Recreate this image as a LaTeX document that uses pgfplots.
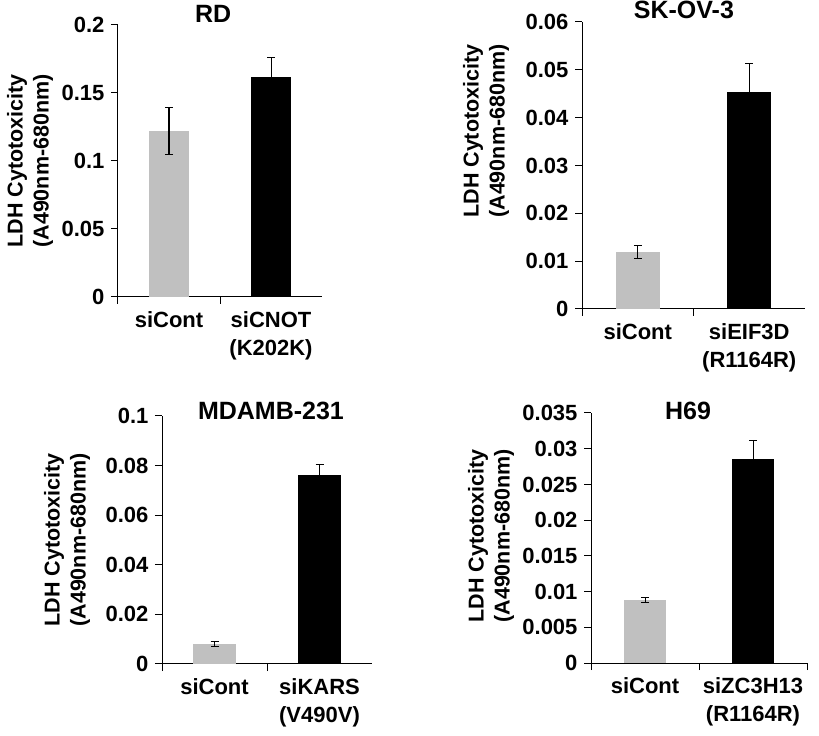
\documentclass[border=0pt]{standalone}
\usepackage{pgfplots}
\pgfplotsset{compat=1.18}
\usepackage{fontspec}
\setmainfont{Liberation Sans}
\definecolor{bargrey}{RGB}{192,192,192}
\newcommand{\tfont}{\bfseries\fontsize{22}{26}\selectfont}
\newcommand{\cfont}{\bfseries\fontsize{22}{28}\selectfont}
\newcommand{\lfont}{\bfseries\fontsize{21.5}{26}\selectfont}
\pgfplotsset{
  panel/.style={
    scale only axis, anchor=south west,
    axis lines=left, axis line style={-, line width=1pt, black},
    ymin=0, xmin=-0.5, xmax=1.5,
    xtick={0,1},
    minor xtick={-0.5,0.5},
    every major x tick/.append style={draw=none},
    tick align=outside,
    major tick length=7pt, minor tick length=7pt,
    every tick/.append style={line width=1pt, black},
    scaled y ticks=false,
    /pgf/number format/assume math mode=true,
    ticklabel style={font=\tfont},
    yticklabel style={xshift=-3pt},
    xticklabel style={align=center, font=\cfont, yshift=-4pt},
    ylabel style={align=center, font=\lfont, anchor=center},
    title style={font=\bfseries\fontsize{25}{30}\selectfont, anchor=center},
    ybar, bar shift=0pt,
    error bars/y dir=both, error bars/y explicit,
    error bars/error bar style={draw=black, line width=1pt},
    error bars/error mark options={rotate=90, mark size=4pt, draw=black, line width=1pt},
    clip=false,
  }
}
\begin{document}
\begin{tikzpicture}
\useasboundingbox (0,0) rectangle (819pt,736pt);
% RD
\begin{axis}[panel, at={(118pt,439pt)}, width=204pt, height=272pt,
  ymax=0.2, ytick={0,0.05,0.1,0.15,0.2}, yticklabels={0,0.05,0.1,0.15,0.2},
  xticklabels={siCont,{siCNOT\\(K202K)}},
  ylabel={LDH Cytotoxicity\\(A490nm-680nm)},
  ylabel style={at={(axis description cs:-0.431,0.5)}},
  title={RD}, title style={at={(axis description cs:0.466,1.018)}},
  bar width=40pt]
\addplot[fill=bargrey, draw=none] coordinates {(0,0.122) +- (0,0.017)};
\addplot[fill=black, draw=none] coordinates {(1,0.162) +- (0,0.014)};
\end{axis}
% SK-OV-3
\begin{axis}[panel, at={(582pt,427pt)}, width=223pt, height=287pt,
  ymax=0.06, ytick={0,0.01,0.02,0.03,0.04,0.05,0.06}, yticklabels={0,0.01,0.02,0.03,0.04,0.05,0.06},
  xticklabels={siCont,{siEIF3D\\(R1164R)}},
  ylabel={LDH Cytotoxicity\\(A490nm-680nm)},
  ylabel style={at={(axis description cs:-0.43,0.62)}},
  title={SK-OV-3}, title style={at={(axis description cs:0.457,1.021)}},
  bar width=44pt]
\addplot[fill=bargrey, draw=none] coordinates {(0,0.0119) +- (0,0.0014)};
\addplot[fill=black, draw=none] coordinates {(1,0.0454) +- (0,0.0059)};
\end{axis}
% MDAMB-231
\begin{axis}[panel, at={(162pt,72pt)}, width=210pt, height=248pt,
  ymax=0.1, ytick={0,0.02,0.04,0.06,0.08,0.1}, yticklabels={0,0.02,0.04,0.06,0.08,0.1},
  xticklabels={siCont,{siKARS\\(V490V)}},
  ylabel={LDH Cytotoxicity\\(A490nm-680nm)},
  ylabel style={at={(axis description cs:-0.452,0.5)}},
  title={MDAMB-231}, title style={at={(axis description cs:0.519,0.996)}},
  bar width=43pt]
\addplot[fill=bargrey, draw=none] coordinates {(0,0.0082) +- (0,0.001)};
\addplot[fill=black, draw=none] coordinates {(1,0.0762) +- (0,0.0043)};
\end{axis}
% H69
\begin{axis}[panel, at={(591pt,73pt)}, width=216pt, height=250pt,
  ymax=0.035, ytick={0,0.005,0.01,0.015,0.02,0.025,0.03,0.035}, yticklabels={0,0.005,0.01,0.015,0.02,0.025,0.03,0.035},
  xticklabels={siCont,{siZC3H13\\(R1164R)}},
  minor xtick={-0.5,0.5,1.5},
  ylabel={LDH Cytotoxicity\\(A490nm-680nm)},
  ylabel style={at={(axis description cs:-0.463,0.508)}},
  title={H69}, title style={at={(axis description cs:0.449,0.984)}},
  bar width=42pt]
\addplot[fill=bargrey, draw=none] coordinates {(0,0.0088) +- (0,0.00035)};
\addplot[fill=black, draw=none] coordinates {(1,0.0285) +- (0,0.0027)};
\end{axis}
\end{tikzpicture}
\end{document}
